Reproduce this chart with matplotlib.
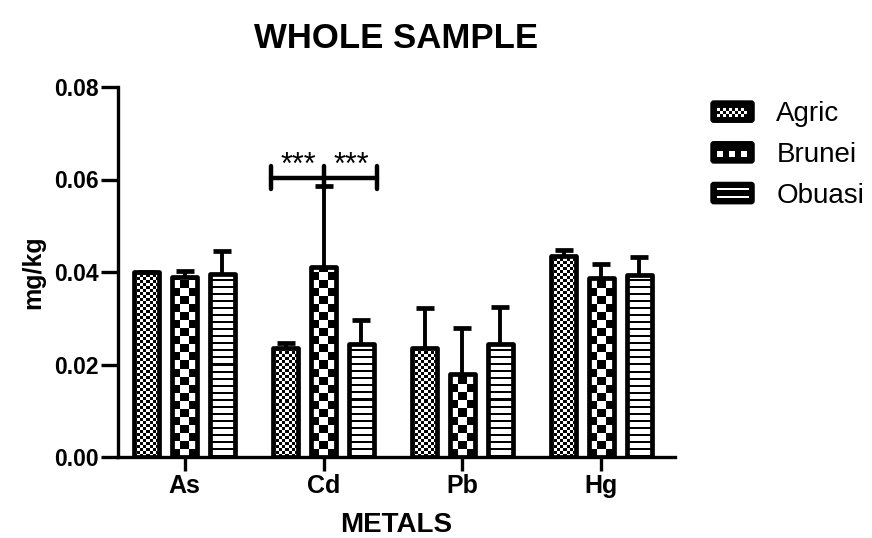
import numpy as np
import matplotlib
matplotlib.use('Agg')
import matplotlib.pyplot as plt
from matplotlib.patches import Rectangle, FancyBboxPatch
from matplotlib.legend_handler import HandlerBase

plt.rcParams['font.family'] = ['Liberation Sans', 'DejaVu Sans']

# data
metals = ['As', 'Cd', 'Pb', 'Hg']
groups = ['Agric', 'Brunei', 'Obuasi']
agric_mean = [0.0400, 0.0235, 0.0235, 0.0435]
agric_sem = [0.0000, 0.0012, 0.0087, 0.0012]
brunei_mean = [0.0389, 0.0410, 0.0180, 0.0388]
brunei_sem = [0.0013, 0.0176, 0.0100, 0.0029]
obuasi_mean = [0.0395, 0.0245, 0.0245, 0.0393]
obuasi_sem = [0.0051, 0.0052, 0.0080, 0.0040]
sig_metal = 'Cd'
sig_level = 0.0604
sig_text = '***'

means = [agric_mean, brunei_mean, obuasi_mean]
sems = [agric_sem, brunei_sem, obuasi_sem]
patterns = ['fine', 'coarse', 'lines']


def pattern_array(kind, w, h):  # black/white pattern in pixels
    i, j = np.mgrid[0:h, 0:w]
    if kind == 'fine':
        return (((i // 3) + (j // 3)) % 2).astype(float)
    if kind == 'coarse':
        return (((i // 8) + (j // 8)) % 2).astype(float)
    return ((i % 7) >= 2).astype(float)


class PatternHandler(HandlerBase):  # legend box with the same pattern
    def __init__(self, kind):
        super().__init__()
        self.kind = kind

    def create_artists(self, legend, orig_handle, xdescent, ydescent, width, height, fontsize, trans):
        arts = []
        x0, y0 = -xdescent, -ydescent
        pad = 4
        arts.append(FancyBboxPatch((x0, y0), width, height, boxstyle='round,pad=0,rounding_size=2',
                                   facecolor='black', edgecolor='black', lw=1, transform=trans))
        iw, ih = width - 2 * pad, height - 2 * pad
        if self.kind == 'lines':
            arts.append(Rectangle((x0 + pad, y0 + pad), iw, ih, facecolor='white', lw=0, transform=trans))
            for k in range(1, 3):
                yy = y0 + pad + ih * k / 3
                arts.append(Rectangle((x0 + pad, yy - 1), iw, 2, facecolor='black', lw=0, transform=trans))
        else:
            s = 2.2 if self.kind == 'fine' else 4.4
            nx, ny = int(iw // s), int(ih // s)
            for a in range(nx):
                for b in range(ny):
                    if (a + b) % 2 == 0:
                        arts.append(Rectangle((x0 + pad + a * s, y0 + pad + b * s), s, s,
                                              facecolor='white', lw=0, transform=trans))
        return arts


fig = plt.figure(figsize=(8.72, 5.38), dpi=100)
ax = fig.add_axes([118 / 872, 1 - 457 / 538, 557 / 872, 370 / 538])
ax.set_xlim(-0.48, 3.53)
ax.set_ylim(0, 0.08)

x = np.arange(len(metals))
pitch = 0.272
width = 0.18
ppx = 557 / (3.53 + 0.48)
ppy = 370 / 0.08

handles = []
for g in range(len(groups)):
    xs = x + (g - 1) * pitch
    for k in range(len(metals)):
        bar = Rectangle((xs[k] - width / 2, 0), width, means[g][k], facecolor='none',
                        edgecolor='black', lw=3.4, joinstyle='round', zorder=3)
        ax.add_patch(bar)
        wpx = max(int(width * ppx), 1)
        hpx = max(int(means[g][k] * ppy), 1)
        img = ax.imshow(pattern_array(patterns[g], wpx, hpx), cmap='gray', vmin=0, vmax=1,
                        origin='lower', aspect='auto', interpolation='nearest',
                        extent=(xs[k] - width / 2, xs[k] + width / 2, 0, means[g][k]), zorder=2)
        img.set_clip_path(bar)
    eb = ax.errorbar(xs, means[g], yerr=[np.zeros(len(metals)), sems[g]], fmt='none',
                     ecolor='black', elinewidth=2.8, capsize=6.5, capthick=3.4, zorder=4)
    eb[1][0].set_visible(False)
    handles.append(Rectangle((0, 0), 1, 1, label=groups[g]))

ax.set_xlim(-0.48, 3.53)
ax.set_ylim(0, 0.08)

# significance bracket over Cd
c = metals.index(sig_metal)
left = c - pitch - width / 2 - 0.02
right = c + pitch + width / 2 + 0.02
ax.plot([left, right], [sig_level, sig_level], color='black', lw=3.2, solid_capstyle='round',
        zorder=5, clip_on=False)
for xx in [left, c, right]:
    ax.plot([xx, xx], [sig_level - 0.0025, sig_level + 0.0025], color='black', lw=3.2,
            solid_capstyle='round', zorder=5, clip_on=False)
ax.text((left + c) / 2 + 0.01, sig_level - 0.0006, sig_text, ha='center', va='bottom', fontsize=22,
        zorder=6)
ax.text((c + right) / 2 + 0.01, sig_level - 0.0006, sig_text, ha='center', va='bottom', fontsize=22,
        zorder=6)

ax.spines['top'].set_visible(False)
ax.spines['right'].set_visible(False)
ax.spines['left'].set_linewidth(2.4)
ax.spines['bottom'].set_linewidth(2.4)
ax.set_yticks([0, 0.02, 0.04, 0.06, 0.08])
ax.set_yticklabels(['0.00', '0.02', '0.04', '0.06', '0.08'])
ax.set_xticks(x)
ax.set_xticklabels(metals)
ax.tick_params(axis='both', length=12, width=2.4, pad=2)
ax.tick_params(axis='y', labelsize=16.5)
ax.tick_params(axis='x', labelsize=18, length=10)
for lab in ax.get_xticklabels() + ax.get_yticklabels():
    lab.set_fontweight('bold')

ax.set_title('WHOLE SAMPLE', fontsize=25, fontweight='bold', pad=28)
ax.set_xlabel('METALS', fontsize=20, fontweight='bold', labelpad=10)
ax.set_ylabel('mg/kg', fontsize=18, fontweight='bold', labelpad=6)

fig.legend(handles=handles, labels=groups,
           handler_map={h: PatternHandler(p) for h, p in zip(handles, patterns)},
           loc='upper left', bbox_to_anchor=(711 / 872, 1 - 101 / 538), frameon=False,
           fontsize=20, handlelength=1.55, handleheight=0.8, handletextpad=0.8,
           labelspacing=0.52, borderpad=0, borderaxespad=0)

fig.savefig('out.png', dpi=100)
